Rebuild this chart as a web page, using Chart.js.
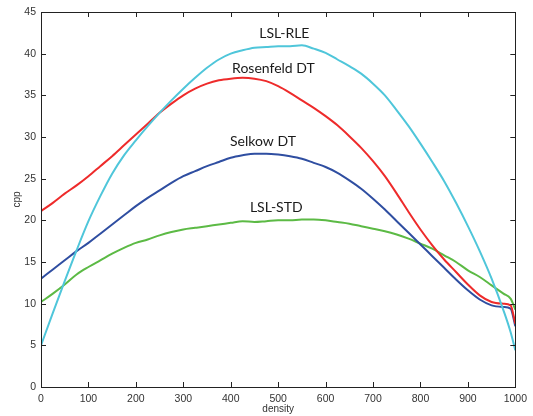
<!DOCTYPE html>
<html>
<head>
<meta charset="utf-8">
<script src="https://cdn.jsdelivr.net/npm/chart.js@4.4.1/dist/chart.umd.min.js"></script>
<style>
  html, body { margin: 0; padding: 0; background: #fff; }
  #wrap { width: 533px; height: 416px; position: relative; }
</style>
</head>
<body>
<div id="wrap"><canvas id="chart"></canvas></div>
<script>
const density = [0, 25, 50, 75, 100, 125, 150, 175, 200, 225, 250, 275, 300, 325, 350, 375, 400, 425, 450, 475, 500,
  525, 550, 575, 600, 625, 650, 675, 700, 725, 750, 775, 800, 825, 850, 875, 900, 925, 950, 975, 990, 1000];

const lslRle = [5.0, 8.9, 12.7, 16.4, 19.9, 22.9, 25.6, 27.8, 29.6, 31.3, 32.9, 34.4, 35.8, 37.1, 38.3, 39.3, 40.0, 40.4, 40.7, 40.8, 40.9,
  40.9, 41.0, 40.6, 40.1, 39.3, 38.5, 37.6, 36.4, 35.0, 33.2, 31.3, 29.2, 27.0, 24.7, 22.1, 19.3, 16.3, 13.0, 9.2, 6.6, 4.4];
const rosenfeld = [21.1, 22.1, 23.2, 24.2, 25.3, 26.5, 27.7, 29.0, 30.3, 31.6, 32.9, 34.0, 35.0, 35.8, 36.4, 36.8, 37.0, 37.1, 37.0, 36.7, 36.1,
  35.3, 34.4, 33.5, 32.5, 31.4, 30.1, 28.7, 27.1, 25.3, 23.2, 21.0, 18.9, 17.0, 15.3, 13.8, 12.3, 11.0, 10.2, 10.0, 9.8, 7.6];
const selkow = [13.0, 14.1, 15.2, 16.3, 17.3, 18.4, 19.5, 20.6, 21.7, 22.7, 23.6, 24.5, 25.3, 25.9, 26.5, 27.0, 27.5, 27.8, 28.0, 28.0, 27.9,
  27.7, 27.4, 26.9, 26.4, 25.7, 24.8, 23.8, 22.6, 21.3, 19.9, 18.5, 17.1, 15.7, 14.3, 12.9, 11.6, 10.5, 9.8, 9.6, 9.4, 7.3];
const lslStd = [10.2, 11.2, 12.3, 13.5, 14.4, 15.2, 16.0, 16.7, 17.3, 17.7, 18.2, 18.6, 18.9, 19.1, 19.3, 19.5, 19.7, 19.9, 19.8, 19.9, 20.0,
  20.0, 20.1, 20.1, 20.0, 19.8, 19.6, 19.3, 19.0, 18.7, 18.3, 17.8, 17.2, 16.6, 15.8, 15.0, 14.0, 13.2, 12.2, 11.2, 10.6, 9.3];

const seriesNames = ['LSL-RLE', 'Rosenfeld DT', 'Selkow DT', 'LSL-STD'];
const seriesColors = ['#4fc6da', '#ee2b2b', '#2f4ea1', '#5cba45'];
// where each curve name sits, in data units [density, cpp]
const labelSpots = [[513, 42.4], [490, 38.2], [468, 29.5], [496, 21.6]];

const toPoints = (vals) => vals.map((v, i) => ({ x: density[i], y: v }));

const frameAndLabels = {
  id: 'frameAndLabels',
  afterDraw(chart) {
    const { ctx, chartArea: a, scales: { x, y } } = chart;
    ctx.save();
    ctx.strokeStyle = '#222';
    ctx.lineWidth = 1;
    ctx.strokeRect(Math.round(a.left) + 0.5, Math.round(a.top) + 0.5, Math.round(a.right - a.left), Math.round(a.bottom - a.top));
    const tl = 5;
    ctx.beginPath();
    x.ticks.forEach((t) => {
      const px = Math.round(x.getPixelForValue(t.value)) + 0.5;
      ctx.moveTo(px, a.bottom); ctx.lineTo(px, a.bottom - tl);
      ctx.moveTo(px, a.top); ctx.lineTo(px, a.top + tl);
    });
    y.ticks.forEach((t) => {
      const py = Math.round(y.getPixelForValue(t.value)) + 0.5;
      ctx.moveTo(a.left, py); ctx.lineTo(a.left + tl, py);
      ctx.moveTo(a.right, py); ctx.lineTo(a.right - tl, py);
    });
    ctx.stroke();

    ctx.fillStyle = '#1a1a1a';
    ctx.font = '14px Lato, "Noto Sans", sans-serif';
    ctx.textAlign = 'center';
    ctx.textBaseline = 'middle';
    seriesNames.forEach((name, i) => {
      const [dx, dy] = labelSpots[i];
      ctx.fillText(name, x.getPixelForValue(dx), y.getPixelForValue(dy));
    });
    ctx.restore();
  }
};

const tickFont = { family: '"Liberation Sans", Arial, sans-serif', size: 10.5 };

new Chart(document.getElementById('chart'), {
  type: 'line',
  data: {
    datasets: [lslRle, rosenfeld, selkow, lslStd].map((vals, i) => ({
      label: seriesNames[i],
      data: toPoints(vals),
      borderColor: seriesColors[i],
      borderWidth: 2,
      pointRadius: 0,
      cubicInterpolationMode: 'monotone',
      fill: false
    }))
  },
  options: {
    responsive: true,
    maintainAspectRatio: false,
    animation: false,
    devicePixelRatio: 1,
    layout: { padding: { top: 12, right: 16, left: 0, bottom: 0 } },
    plugins: { legend: { display: false }, tooltip: { enabled: false } },
    scales: {
      x: {
        type: 'linear',
        min: 0, max: 1000,
        grid: { display: false, drawTicks: false },
        border: { display: false },
        ticks: { stepSize: 100, color: '#333', font: tickFont, padding: 6, maxRotation: 0, callback: (v) => String(v) },
        title: { display: true, text: 'density', color: '#333', font: { family: '"Liberation Sans", Arial, sans-serif', size: 10 }, padding: { top: 0, bottom: 1 } },
        afterFit: (s) => { s.height = 29; }
      },
      y: {
        min: 0, max: 45,
        grid: { display: false, drawTicks: false },
        border: { display: false },
        ticks: { stepSize: 5, color: '#333', font: tickFont, padding: 5 },
        title: { display: true, text: 'cpp', color: '#333', font: { family: '"Liberation Sans", Arial, sans-serif', size: 10 }, padding: { top: 11, bottom: 0 } },
        afterFit: (s) => { s.width = 41; }
      }
    }
  },
  plugins: [frameAndLabels]
});
</script>
</body>
</html>
